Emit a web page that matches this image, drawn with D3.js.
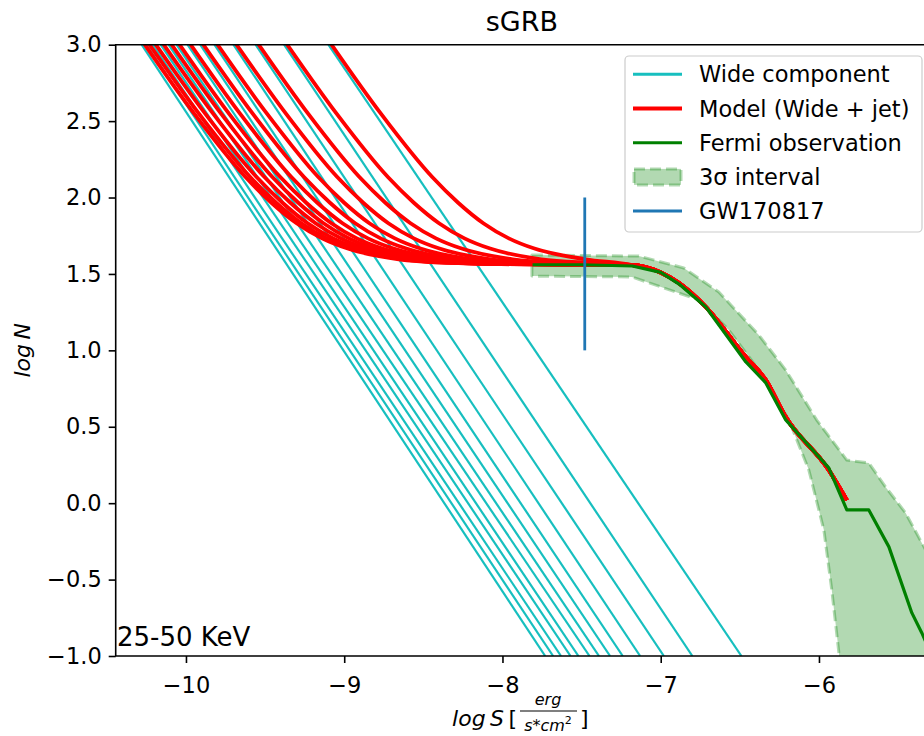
<!DOCTYPE html>
<html>
<head>
<meta charset="utf-8">
<script src="https://cdn.jsdelivr.net/npm/d3@7"></script>
<style>
  body { margin: 0; background: #fff; }
  text { font-family: "DejaVu Sans", sans-serif; }
</style>
</head>
<body>
<div id="chart"></div>
<script>
/* Wide component: straight lines, logS where each one crosses logN = 3 and logN = -1 */
var wideTop    = [-10.28, -10.25, -10.21, -10.16, -10.11, -10.06, -9.99, -9.91, -9.82, -9.70, -9.56, -9.38, -9.10];
var wideBottom = [-7.73, -7.68, -7.63, -7.57, -7.52, -7.45, -7.39, -7.32, -7.24, -7.13, -6.98, -6.80, -6.49];

/* Model (wide + jet): logS of each curve at these logN levels, then a common tail */
var modelN = [3.015, 2.547, 2.134, 1.966, 1.832, 1.733, 1.666, 1.596, 1.572, 1.564];
var modelS = [
  [-10.27, -9.947, -9.624, -9.46, -9.301, -9.14, -8.978, -8.655, -8.332, -8.01],
  [-10.24, -9.917, -9.594, -9.43, -9.271, -9.11, -8.948, -8.625, -8.302, -7.98],
  [-10.20, -9.877, -9.554, -9.39, -9.231, -9.07, -8.908, -8.585, -8.262, -7.94],
  [-10.15, -9.827, -9.504, -9.34, -9.181, -9.02, -8.858, -8.535, -8.212, -7.89],
  [-10.10, -9.777, -9.454, -9.29, -9.131, -8.97, -8.808, -8.485, -8.162, -7.84],
  [-10.05, -9.727, -9.404, -9.24, -9.081, -8.92, -8.758, -8.435, -8.112, -7.79],
  [-9.98, -9.657, -9.334, -9.17, -9.011, -8.85, -8.688, -8.365, -8.042, -7.72],
  [-9.90, -9.577, -9.254, -9.09, -8.931, -8.77, -8.608, -8.285, -7.962, -7.64],
  [-9.81, -9.487, -9.164, -9.00, -8.841, -8.68, -8.518, -8.195, -7.872, -7.55],
  [-9.69, -9.367, -9.044, -8.88, -8.721, -8.56, -8.398, -8.075, -7.752, -7.43],
  [-9.55, -9.227, -8.904, -8.74, -8.581, -8.42, -8.258, -7.935, -7.612, -7.29],
  [-9.37, -9.047, -8.724, -8.56, -8.401, -8.24, -8.078, -7.755, -7.432],
  [-9.09, -8.767, -8.444, -8.28, -8.121, -7.96, -7.798, -7.475]
];
var modelTailS = [-7.18, -7.0, -6.884, -6.715, -6.462, -6.336, -6.21, -5.938, -5.824];
var modelTailN = [1.558, 1.51, 1.44, 1.284, 0.956, 0.806, 0.564, 0.217, 0.02];

/* Fermi observation */
var fermiS = [-7.81, -7.5, -7.18, -7.0, -6.884, -6.715, -6.462, -6.336, -6.21, -5.938, -5.824, -5.685, -5.558, -5.413, -5.35, -5.2];
var fermiN = [1.56, 1.56, 1.552, 1.51, 1.434, 1.284, 0.924, 0.787, 0.545, 0.231, -0.044, -0.044, -0.286, -0.718, -0.849, -1.2];

/* 3 sigma interval edges */
var bandUpperS = [-7.814, -7.138, -6.854, -6.633, -6.38, -6.21, -6.014, -5.824, -5.685, -5.578, -5.452, -5.37, -5.24, -5.1];
var bandUpperN = [1.624, 1.617, 1.539, 1.382, 1.100, 0.871, 0.544, 0.282, 0.263, 0.105, -0.065, -0.222, -0.47, -0.75];
var bandLowerS = [-7.814, -7.182, -6.759, -6.57, -6.38, -6.19, -6.064, -5.969, -5.919, -5.874, -5.86];
var bandLowerN = [1.486, 1.480, 1.330, 1.133, 0.871, 0.544, 0.217, -0.176, -0.569, -0.981, -1.3];

/* GW170817 */
var gwS = -7.48;
var gwN = [1.0, 2.0];

var xTicks = [-10, -9, -8, -7, -6];
var yTicks = [-1, -0.5, 0, 0.5, 1, 1.5, 2, 2.5, 3];

var width = 924, height = 736;
var plotL = 115.7, plotR = 928, plotT = 44.7, plotB = 656;

var svg = d3.select("#chart").append("svg")
    .attr("width", width)
    .attr("height", height);

var x = d3.scaleLinear().domain([-10.444, -5.311]).range([plotL, plotR]);
var y = d3.scaleLinear().domain([-1, 3]).range([plotB, plotT]);

svg.append("clipPath").attr("id", "plot")
  .append("rect")
    .attr("x", plotL).attr("y", plotT)
    .attr("width", plotR - plotL).attr("height", plotB - plotT);

var plot = svg.append("g").attr("clip-path", "url(#plot)");

var line = d3.line().x(function(d){ return x(d[0]); }).y(function(d){ return y(d[1]); });
var smooth = d3.line().x(function(d){ return x(d[0]); }).y(function(d){ return y(d[1]); })
    .curve(d3.curveMonotoneX);

// 3 sigma band
var bandPts = bandUpperS.map(function(s, i){ return [s, bandUpperN[i]]; });
bandPts.push([-5.1, -1.3]);
bandLowerS.slice().reverse().forEach(function(s, i){
  bandPts.push([s, bandLowerN[bandLowerN.length - 1 - i]]);
});
plot.append("path")
    .attr("d", line(bandPts) + "Z")
    .style("fill", "green")
    .style("fill-opacity", 0.3)
    .style("stroke", "green")
    .style("stroke-opacity", 0.3)
    .style("stroke-width", 3)
    .style("stroke-dasharray", "11,5")
    .style("stroke-linejoin", "round");

// wide component lines
plot.selectAll(".wide")
    .data(wideTop)
  .enter().append("path")
    .attr("class", "wide")
    .attr("d", function(d, i){ return line([[d, 3], [wideBottom[i], -1]]); })
    .style("fill", "none")
    .style("stroke", "#17bfbf")
    .style("stroke-width", 2.2);

// model curves
var tail = modelTailS.map(function(s, i){ return [s, modelTailN[i]]; });
plot.selectAll(".model")
    .data(modelS)
  .enter().append("path")
    .attr("class", "model")
    .attr("d", function(row){
      var pts = row.map(function(s, j){ return [s, modelN[j]]; });
      return smooth(pts.concat(tail));
    })
    .style("fill", "none")
    .style("stroke", "red")
    .style("stroke-width", 3.8);

// fermi observation
plot.append("path")
    .attr("d", line(fermiS.map(function(s, i){ return [s, fermiN[i]]; })))
    .style("fill", "none")
    .style("stroke", "green")
    .style("stroke-width", 3.2)
    .style("stroke-linejoin", "round");

// GW170817
plot.append("line")
    .attr("x1", x(gwS)).attr("x2", x(gwS))
    .attr("y1", y(gwN[0])).attr("y2", y(gwN[1]))
    .style("stroke", "#1f77b4")
    .style("stroke-width", 2.8);

// axes
var xAxis = svg.append("g")
    .attr("transform", "translate(0," + plotB + ")")
    .call(d3.axisBottom(x).tickValues(xTicks).tickSize(7).tickPadding(7).tickFormat(d3.format("d")));
var yAxis = svg.append("g")
    .attr("transform", "translate(" + plotL + ",0)")
    .call(d3.axisLeft(y).tickValues(yTicks).tickSize(7).tickPadding(7).tickFormat(d3.format(".1f")));
[xAxis, yAxis].forEach(function(a){
  a.select(".domain").remove();
  a.selectAll(".tick line").style("stroke", "#000").style("stroke-width", 1.6);
  a.selectAll(".tick text")
    .style("font-family", "DejaVu Sans")
    .style("font-size", "22.5px")
    .style("fill", "#000");
});
xAxis.selectAll(".tick text").attr("dy", "1.0em");

// spines
svg.append("path")
    .attr("d", "M" + plotL + "," + plotT + "V" + plotB + "H" + plotR + "V" + plotT + "Z")
    .style("fill", "none")
    .style("stroke", "#000")
    .style("stroke-width", 1.6);

// title
svg.append("text")
    .attr("x", (plotL + plotR) / 2).attr("y", 31)
    .attr("text-anchor", "middle")
    .style("font-size", "27px")
    .text("sGRB");

// band label
svg.append("text")
    .attr("x", 117).attr("y", 646)
    .style("font-size", "26px")
    .text("25-50 KeV");

// y label
svg.append("text")
    .attr("transform", "translate(30," + ((plotT + plotB) / 2) + ") rotate(-90)")
    .attr("text-anchor", "middle")
    .style("font-size", "22px")
    .style("font-style", "italic")
    .text("log\u2009N");

// x label: log S [erg / s*cm^2]
var xl = svg.append("g");
var lt = xl.append("text").attr("x", 517).attr("y", 726).attr("text-anchor", "end").style("font-size", "22px");
lt.append("tspan").style("font-style", "italic").text("log\u2009S\u2009");
lt.append("tspan").text("[");
xl.append("text").attr("x", 548).attr("y", 705).attr("text-anchor", "middle")
    .style("font-size", "16px").style("font-style", "italic").text("erg");
xl.append("line").attr("x1", 520).attr("x2", 577).attr("y1", 711).attr("y2", 711)
    .style("stroke", "#000").style("stroke-width", 1.1);
var den = xl.append("text").attr("x", 548).attr("y", 731).attr("text-anchor", "middle").style("font-size", "16px");
den.append("tspan").style("font-style", "italic").text("s");
den.append("tspan").text("*");
den.append("tspan").style("font-style", "italic").text("cm");
den.append("tspan").attr("dy", -7).style("font-size", "11px").text("2");
xl.append("text").attr("x", 580).attr("y", 726).style("font-size", "22px").text("]");

// legend
var lg = svg.append("g");
lg.append("rect")
    .attr("x", 625).attr("y", 56).attr("width", 297).attr("height", 176)
    .attr("rx", 4)
    .style("fill", "#fff").style("fill-opacity", 0.8)
    .style("stroke", "#ccc").style("stroke-width", 1.2);
var legendItems = ["Wide component", "Model (Wide + jet)", "Fermi observation", "3\u03c3 interval", "GW170817"];
var legendColors = ["#17bfbf", "red", "green", null, "#1f77b4"];
var legendWidths = [3, 4, 3, 0, 3];
legendItems.forEach(function(label, i){
  var cy = 74.3 + i * 34.2;
  if (legendColors[i]) {
    lg.append("line")
        .attr("x1", 633).attr("x2", 682).attr("y1", cy).attr("y2", cy)
        .style("stroke", legendColors[i]).style("stroke-width", legendWidths[i]);
  } else {
    lg.append("rect")
        .attr("x", 634).attr("y", cy - 8).attr("width", 47).attr("height", 16)
        .style("fill", "green").style("fill-opacity", 0.3)
        .style("stroke", "green").style("stroke-opacity", 0.3)
        .style("stroke-width", 3).style("stroke-dasharray", "11,5");
  }
  lg.append("text")
      .attr("x", 699).attr("y", cy + 8)
      .style("font-size", "22.5px")
      .text(label);
});
</script>
</body>
</html>
